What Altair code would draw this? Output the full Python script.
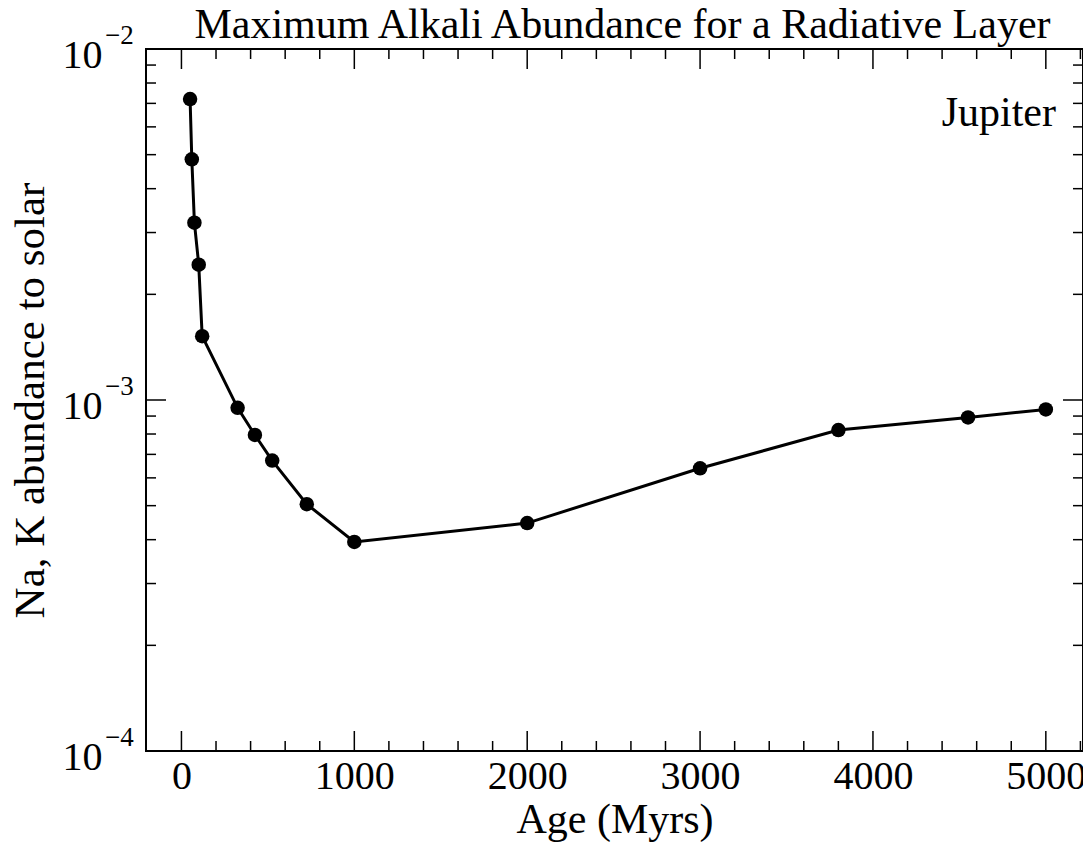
import altair as alt
import pandas as pd

# ---- data ----
age = [50, 60, 75, 100, 120, 325, 425, 525, 725, 1000, 2000, 3000, 3800, 4550, 5000]
abundance = [7.2e-3, 4.85e-3, 3.2e-3, 2.43e-3, 1.52e-3, 9.5e-4, 7.95e-4, 6.72e-4,
             5.05e-4, 3.94e-4, 4.46e-4, 6.39e-4, 8.21e-4, 8.92e-4, 9.40e-4]

x_major = [0, 1000, 2000, 3000, 4000, 5000]
x_minor = [200, 400, 600, 800, 1200, 1400, 1600, 1800, 2200, 2400, 2600, 2800,
           3200, 3400, 3600, 3800, 4200, 4400, 4600, 4800, 5200]
y_major = [1e-4, 1e-3, 1e-2]
y_exp = ["\u22124", "\u22123", "\u22122"]
y_minor = [2e-4, 3e-4, 4e-4, 5e-4, 6e-4, 7e-4, 8e-4, 9e-4,
           2e-3, 3e-3, 4e-3, 5e-3, 6e-3, 7e-3, 8e-3, 9e-3]

title_text = "Maximum Alkali Abundance for a Radiative Layer"
planet = "Jupiter"

W, H = 937, 702
FONT = "Liberation Serif"
XDOM = [-205, 5215]
YDOM = [1e-4, 1e-2]

xs = alt.Scale(domain=XDOM, nice=False, zero=False)
ys = alt.Scale(type="log", domain=YDOM, nice=False)

x_axis = alt.Axis(values=x_major, format="d", ticks=False, tickSize=0,
                  domain=False, grid=False, labelFont=FONT, labelFontSize=40,
                  labelColor="black", labelBaseline="alphabetic",
                  labelPadding=37, labelFlush=False, labelOverlap=False,
                  title="Age (Myrs)", titleFont=FONT, titleFontSize=42,
                  titleFontWeight="normal", titleColor="black",
                  titleBaseline="alphabetic", titleY=81)
y_axis = alt.Axis(values=y_major, labelExpr="'10'", ticks=False, tickSize=0,
                  domain=False, grid=False, labelFont=FONT, labelFontSize=40,
                  labelColor="black", labelBaseline="alphabetic",
                  labelOffset=18, labelAlign="right", labelPadding=44,
                  labelFlush=False, labelOverlap=False,
                  title="Na, K abundance to solar", titleFont=FONT,
                  titleFontSize=43, titleFontWeight="normal",
                  titleColor="black", titleBaseline="alphabetic",
                  titleX=-103)

X = alt.X("age:Q", scale=xs, axis=x_axis)
Y = alt.Y("abund:Q", scale=ys, axis=y_axis)

df = pd.DataFrame({"age": age, "abund": abundance})

line = alt.Chart(df).mark_line(color="black", strokeWidth=3).encode(x=X, y=Y)
pts = alt.Chart(df).mark_circle(color="black", opacity=1, size=210).encode(x=X, y=Y)

xmaj = pd.DataFrame({"age": x_major})
xmin = pd.DataFrame({"age": x_minor})
ymaj = pd.DataFrame({"abund": y_major, "lab": y_exp})
ymin = pd.DataFrame({"abund": y_minor})


def xticks(d, L):
    b = alt.Chart(d).mark_rule(color="black", strokeWidth=1.5)
    return (b.encode(x=X, y=alt.value(H), y2=alt.value(H - L)) +
            b.encode(x=X, y=alt.value(0), y2=alt.value(L)))


def yticks(d, L):
    b = alt.Chart(d).mark_rule(color="black", strokeWidth=1.5)
    return (b.encode(y=Y, x=alt.value(0), x2=alt.value(L)) +
            b.encode(y=Y, x=alt.value(W), x2=alt.value(W - L)))


exps = alt.Chart(ymaj).mark_text(font=FONT, fontSize=27, color="black", align="left",
                                 baseline="alphabetic", dy=-5).encode(
    y=Y, x=alt.value(-41), text="lab:N")

label = alt.Chart(pd.DataFrame({"t": [planet]})).mark_text(
    font=FONT, fontSize=42, color="black", align="right", baseline="alphabetic").encode(
    x=alt.value(910), y=alt.value(77), text="t:N")

ttl = alt.Chart(pd.DataFrame({"t": [title_text]})).mark_text(
    font=FONT, fontSize=42, color="black", align="center", baseline="alphabetic").encode(
    x=alt.value(W / 2 + 8), y=alt.value(-11), text="t:N")

chart = alt.layer(line, pts, xticks(xmaj, 20), xticks(xmin, 10), yticks(ymaj, 20),
                  yticks(ymin, 10), exps, label, ttl).properties(
    width=W, height=H,
    background="white",
    autosize=alt.AutoSizeParams(type="none"),
    padding={"left": 138, "top": 41, "right": 0, "bottom": 92},
).configure_view(stroke="black", strokeWidth=2)

chart.save("out.html", embed_options={"renderer": "svg", "actions": False})
